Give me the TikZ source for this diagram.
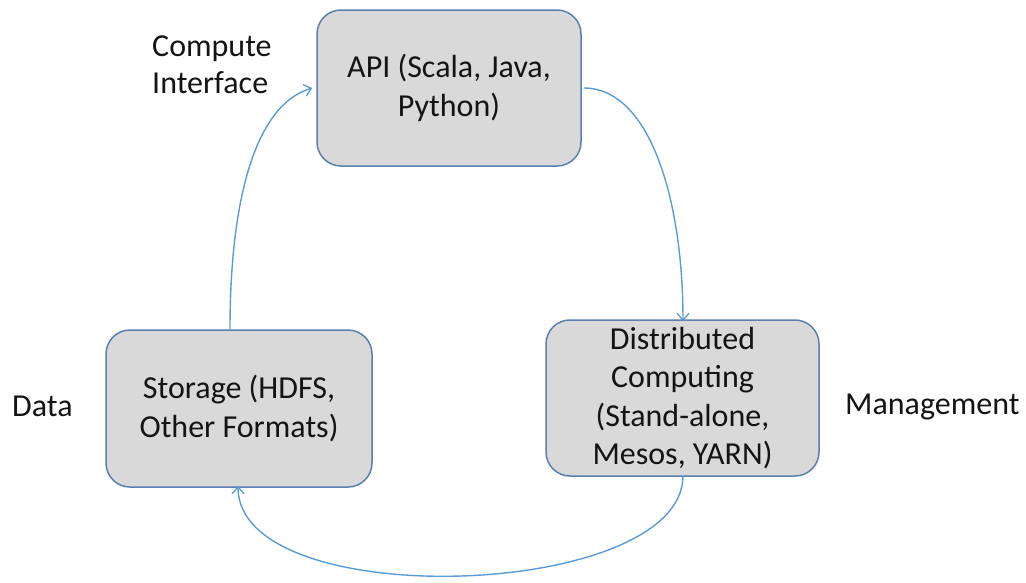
\documentclass[tikz,border=0pt]{standalone}
\usepackage{fontspec}
\setmainfont{Carlito}
\usetikzlibrary{arrows.meta}
\definecolor{boxfill}{HTML}{D9D9D9}
\definecolor{boxline}{HTML}{5B7FAE}
\definecolor{arrowc}{HTML}{5B9BD5}
\definecolor{txt}{HTML}{141414}
\begin{document}
\begin{tikzpicture}[x=1pt,y=-1pt,
  box/.style={draw=boxline,line width=1.5pt,fill=boxfill,rounded corners=24pt,
    inner sep=0pt,align=center,text=txt,font=\fontsize{32}{38.5}\selectfont},
  lbl/.style={inner sep=0pt,align=left,text=txt,font=\fontsize{32}{36.5}\selectfont},
  conn/.style={draw=arrowc,line width=1.4pt,-{Straight Barb[length=7pt,width=12pt,line width=1.3pt]}}]
\useasboundingbox (0,0) rectangle (1026,582);
\node[box,minimum width=264pt,minimum height=156pt] (api) at (449,88) {API (Scala, Java,\\Python)};
\node[box,minimum width=266pt,minimum height=157pt] (sto) at (239,408.5) {Storage (HDFS,\\Other Formats)};
\node[box,minimum width=273pt,minimum height=156pt] (dist) at (682.5,398) {Distributed\\Computing\\(Stand-alone,\\Mesos, YARN)};
\node[lbl,anchor=base west] (ci) at (152,93) {Compute\\Interface};
\node[lbl,anchor=base west] (data) at (12,416) {Data};
\node[lbl,anchor=base west] (mgmt) at (845,414) {Management};
\coordinate (s1) at (sto.north -| 230,0);
\coordinate (a1) at (api.west |- 0,88);
\coordinate (a2) at (api.east |- 0,88);
\coordinate (d1) at (dist.north -| 683,0);
\coordinate (d2) at (dist.south -| 683,0);
\coordinate (s2) at (sto.south -| 238,0);
\draw[conn] (s1) .. controls (230,200) and (255,105) .. ([xshift=-4pt]a1);
\draw[conn] ([xshift=2pt]a2) .. controls (650,88) and (683,200) .. ([yshift=-2pt]d1);
\draw[conn] ([yshift=1pt]d2) .. controls (683,600) and (238,615) .. ([yshift=2pt]s2);
\end{tikzpicture}
\end{document}
